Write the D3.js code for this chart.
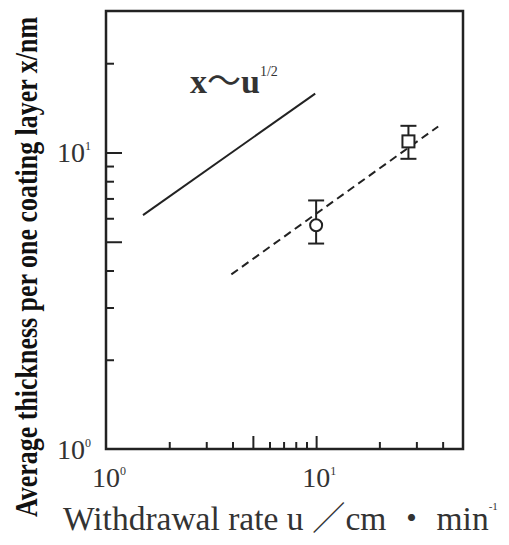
<!DOCTYPE html>
<html>
<head>
<meta charset="utf-8" />
<title>Withdrawal rate vs thickness</title>
<script src="https://d3js.org/d3.v7.min.js"></script>
<style>
  body { margin: 0; background: #fff; }
  svg { display: block; }
</style>
</head>
<body>
<script>
  // chart values
  const xMinorTicks = [2, 3, 4, 6, 7, 8, 9, 20, 30, 40];
  const xMajorTicks = [5, 10];
  const yMinorTicks = [2, 3, 4, 6, 7, 8, 9, 20];
  const yMajorTicks = [5, 10];
  const decadeLabels = [1, 10];

  // reference slope line x ~ u^1/2
  const slopeU = [1.5, 9.9];
  const slopeX = [6.15, 15.8];
  // fitted dashed line
  const fitU = [3.95, 38.1];
  const fitX = [3.88, 12.24];
  // measured points
  const pointU = [10, 27.5];
  const pointX = [5.68, 10.9];
  const pointLow = [4.93, 9.52];
  const pointHigh = [6.89, 12.3];
  const pointShape = ["circle", "square"];

  const width = 509, height = 545;
  const plotL = 106, plotR = 463, plotT = 11, plotB = 449;
  const serif = "'Liberation Serif', 'DejaVu Serif', serif";
  const cjk = "'Noto Sans CJK JP', sans-serif";

  const svg = d3.select("body").append("svg")
    .attr("width", width)
    .attr("height", height);

  const x = d3.scaleLog().domain([1, 50]).range([plotL, plotR]);
  const y = d3.scaleLog().domain([1, 30]).range([plotB, plotT]);

  // ticks, drawn inward
  function tickAxis(axis, vals, size, tr) {
    const g = svg.append("g")
      .attr("transform", tr)
      .call(axis.tickValues(vals).tickSize(size).tickFormat(""));
    g.select(".domain").remove();
    g.selectAll(".tick line").attr("stroke", "#222").attr("stroke-width", 2);
  }
  tickAxis(d3.axisBottom(x), xMinorTicks, -7, `translate(0,${plotB})`);
  tickAxis(d3.axisBottom(x), xMajorTicks, -13, `translate(0,${plotB})`);
  tickAxis(d3.axisLeft(y), yMinorTicks, -8, `translate(${plotL},0)`);
  tickAxis(d3.axisLeft(y), yMajorTicks, -16, `translate(${plotL},0)`);

  // frame
  svg.append("rect")
    .attr("x", plotL).attr("y", plotT)
    .attr("width", plotR - plotL).attr("height", plotB - plotT)
    .attr("fill", "none")
    .attr("stroke", "#222")
    .attr("stroke-width", 2.5);

  // decade labels
  decadeLabels.forEach(function(v, i) {
    const t = svg.append("text")
      .attr("font-family", serif).attr("fill", "#333")
      .attr("x", x(v) - 14).attr("y", plotB + 38)
      .attr("font-size", 28);
    t.append("tspan").text("10");
    t.append("tspan").attr("dy", -12).attr("font-size", 12).text(i);

    const s = svg.append("text")
      .attr("font-family", serif).attr("fill", "#333")
      .attr("x", plotL - 49).attr("y", y(v) + 10)
      .attr("font-size", 28);
    s.append("tspan").text("10");
    s.append("tspan").attr("dy", -12).attr("font-size", 12).text(i);
  });

  const line = d3.line()
    .x(d => x(d[0]))
    .y(d => y(d[1]));

  svg.append("path")
    .datum(d3.zip(slopeU, slopeX))
    .attr("d", line)
    .attr("fill", "none")
    .attr("stroke", "#222")
    .attr("stroke-width", 2);

  svg.append("path")
    .datum(d3.zip(fitU, fitX))
    .attr("d", line)
    .attr("fill", "none")
    .attr("stroke", "#222")
    .attr("stroke-width", 2)
    .attr("stroke-dasharray", "8,5");

  // error bars and markers
  const pts = pointU.map((u, i) => ({u: u, v: pointX[i], lo: pointLow[i], hi: pointHigh[i], shape: pointShape[i]}));
  const pg = svg.append("g").attr("stroke", "#222").attr("stroke-width", 2);
  pts.forEach(function(d) {
    const cx = x(d.u);
    pg.append("line").attr("x1", cx).attr("x2", cx).attr("y1", y(d.lo)).attr("y2", y(d.hi));
    [d.lo, d.hi].forEach(function(e) {
      pg.append("line").attr("x1", cx - 8).attr("x2", cx + 8).attr("y1", y(e)).attr("y2", y(e));
    });
    if (d.shape === "circle") {
      pg.append("circle").attr("cx", cx).attr("cy", y(d.v)).attr("r", 6).attr("fill", "#fff");
    } else {
      pg.append("rect").attr("x", cx - 6).attr("y", y(d.v) - 6)
        .attr("width", 12).attr("height", 12).attr("fill", "#fff");
    }
  });

  // annotation
  const ann = svg.append("text")
    .attr("font-family", serif).attr("fill", "#333")
    .attr("x", 190).attr("y", 93)
    .attr("font-size", 34).attr("font-weight", "bold");
  ann.append("tspan").text("x");
  ann.append("tspan").attr("font-family", cjk).attr("font-weight", "normal").attr("font-size", 34).text("～");
  ann.append("tspan").text("u");
  ann.append("tspan").attr("dy", -17).attr("font-size", 14).attr("font-weight", "normal").text("1/2");

  // axis titles
  svg.append("text")
    .attr("font-family", serif).attr("fill", "#111")
    .attr("transform", "translate(37,267) rotate(-90) scale(1,1.3)")
    .attr("text-anchor", "middle")
    .attr("font-size", 24)
    .attr("font-weight", "bold")
    .attr("textLength", 500)
    .attr("lengthAdjust", "spacingAndGlyphs")
    .text("Average thickness per one coating layer x/nm");

  const xt = svg.append("text")
    .attr("font-family", serif).attr("fill", "#333")
    .attr("x", 63).attr("y", 530)
    .attr("font-size", 33.5);
  xt.append("tspan").text("Withdrawal rate u ");
  xt.append("tspan").attr("font-family", cjk).attr("font-weight", 300).text("／");
  xt.append("tspan").text("cm ");
  xt.append("tspan").attr("font-family", cjk).text("・");
  xt.append("tspan").text(" min");
  xt.append("tspan").attr("dy", -20).attr("font-size", 11).text("-1");
</script>
</body>
</html>
